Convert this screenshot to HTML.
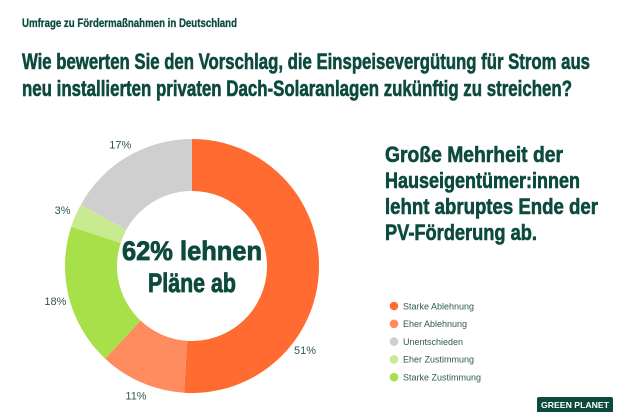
<!DOCTYPE html>
<html><head><meta charset="utf-8"><style>
html,body{margin:0;padding:0;background:#fff;width:630px;height:412px;overflow:hidden}
svg{display:block}
.h{font-family:"Liberation Sans",sans-serif;font-weight:bold;fill:#0d4a3e;stroke:#0d4a3e;stroke-width:0.6}
.l{font-family:"Liberation Sans",sans-serif;fill:#2f5a50}
</style></head><body>
<svg id="chart" width="630" height="412" viewBox="0 0 630 412">
<text class="h" x="22" y="27" font-size="12" textLength="215" lengthAdjust="spacingAndGlyphs" style="stroke-width:0.3">Umfrage zu Fördermaßnahmen  in Deutschland</text>
<text class="h" x="22" y="69" font-size="22" textLength="568" lengthAdjust="spacingAndGlyphs">Wie bewerten Sie den Vorschlag, die Einspeisevergütung für Strom aus</text>
<text class="h" x="22" y="96" font-size="22" textLength="550" lengthAdjust="spacingAndGlyphs">neu installierten privaten Dach-Solaranlagen zukünftig zu streichen?</text>
<g>
<text class="h" x="385" y="162" font-size="22" textLength="178" lengthAdjust="spacingAndGlyphs">Große Mehrheit der</text>
<text class="h" x="385" y="188" font-size="22" textLength="195" lengthAdjust="spacingAndGlyphs">Hauseigentümer:innen</text>
<text class="h" x="385" y="214" font-size="22" textLength="213" lengthAdjust="spacingAndGlyphs">lehnt abruptes Ende der</text>
<text class="h" x="385" y="240" font-size="22" textLength="152" lengthAdjust="spacingAndGlyphs">PV-Förderung ab.</text>
</g>
<g id="slices"></g>
<g id="labels"></g>
<text class="h" x="192" y="260" font-size="27" text-anchor="middle" textLength="140" lengthAdjust="spacingAndGlyphs" style="stroke-width:0.8">62% lehnen</text>
<text class="h" x="192" y="292" font-size="27" text-anchor="middle" textLength="88" lengthAdjust="spacingAndGlyphs" style="stroke-width:0.8">Pläne ab</text>
<g id="legend"></g>
<g>
<rect x="537" y="397" width="76" height="20" rx="2" fill="#0d4a3e"/>
<text x="575" y="408" font-size="8.5" font-weight="bold" fill="#fff" text-anchor="middle" font-family="Liberation Sans,sans-serif" textLength="68" lengthAdjust="spacingAndGlyphs">GREEN PLANET</text>
</g>
</svg>
<script>
const categories=["Starke Ablehnung","Eher Ablehnung","Starke Zustimmung","Eher Zustimmung","Unentschieden"];
const values=[51,11,18,3,17];
const colors=["#ff6b30","#ff8c5e","#a8e04a","#c8eb92","#cfcfcf"];
const valueLabels=["51%","11%","18%","3%","17%"];
const legendOrder=["Starke Ablehnung","Eher Ablehnung","Unentschieden","Eher Zustimmung","Starke Zustimmung"];
const NS="http://www.w3.org/2000/svg";
const cx=192,cy=266,R=127,r=75;
const total=values.reduce((a,b)=>a+b,0);
function pt(a,rad){return [cx+rad*Math.sin(a),cy-rad*Math.cos(a)];}
let acc=0;
const sg=document.getElementById('slices'),lg=document.getElementById('labels');
values.forEach((v,i)=>{
  const a0=acc/total*2*Math.PI;acc+=v;const a1=acc/total*2*Math.PI;
  const large=(a1-a0)>Math.PI?1:0;
  const [x0,y0]=pt(a0,R),[x1,y1]=pt(a1,R),[x2,y2]=pt(a1,r),[x3,y3]=pt(a0,r);
  const p=document.createElementNS(NS,'path');
  p.setAttribute('d',`M${x0},${y0}A${R},${R} 0 ${large} 1 ${x1},${y1}L${x2},${y2}A${r},${r} 0 ${large} 0 ${x3},${y3}Z`);
  p.setAttribute('fill',colors[i]);
  
  
  sg.appendChild(p);
  const f=(a1-a0)>Math.PI*0.8?0.69:0.5;
  const am=a0+(a1-a0)*f;const [lx,ly]=pt(am,R+14);
  const t=document.createElementNS(NS,'text');
  t.setAttribute('x',lx);t.setAttribute('y',ly+4);
  t.setAttribute('text-anchor','middle');t.setAttribute('font-size','11');
  t.setAttribute('class','l');t.textContent=valueLabels[i];
  
  
  lg.appendChild(t);
});
const leg=document.getElementById('legend');
legendOrder.forEach((n,i)=>{
  const y=306+i*17.8;
  const c=document.createElementNS(NS,'circle');
  c.setAttribute('cx',394);c.setAttribute('cy',y);c.setAttribute('r',4.3);
  c.setAttribute('fill',colors[categories.indexOf(n)]);
  
  
  leg.appendChild(c);
  const t=document.createElementNS(NS,'text');
  t.setAttribute('x',403);t.setAttribute('y',y+3.3);t.setAttribute('font-size','9');
  t.setAttribute('class','l');t.textContent=n;
  
  
  leg.appendChild(t);
});
</script>
</body></html>
